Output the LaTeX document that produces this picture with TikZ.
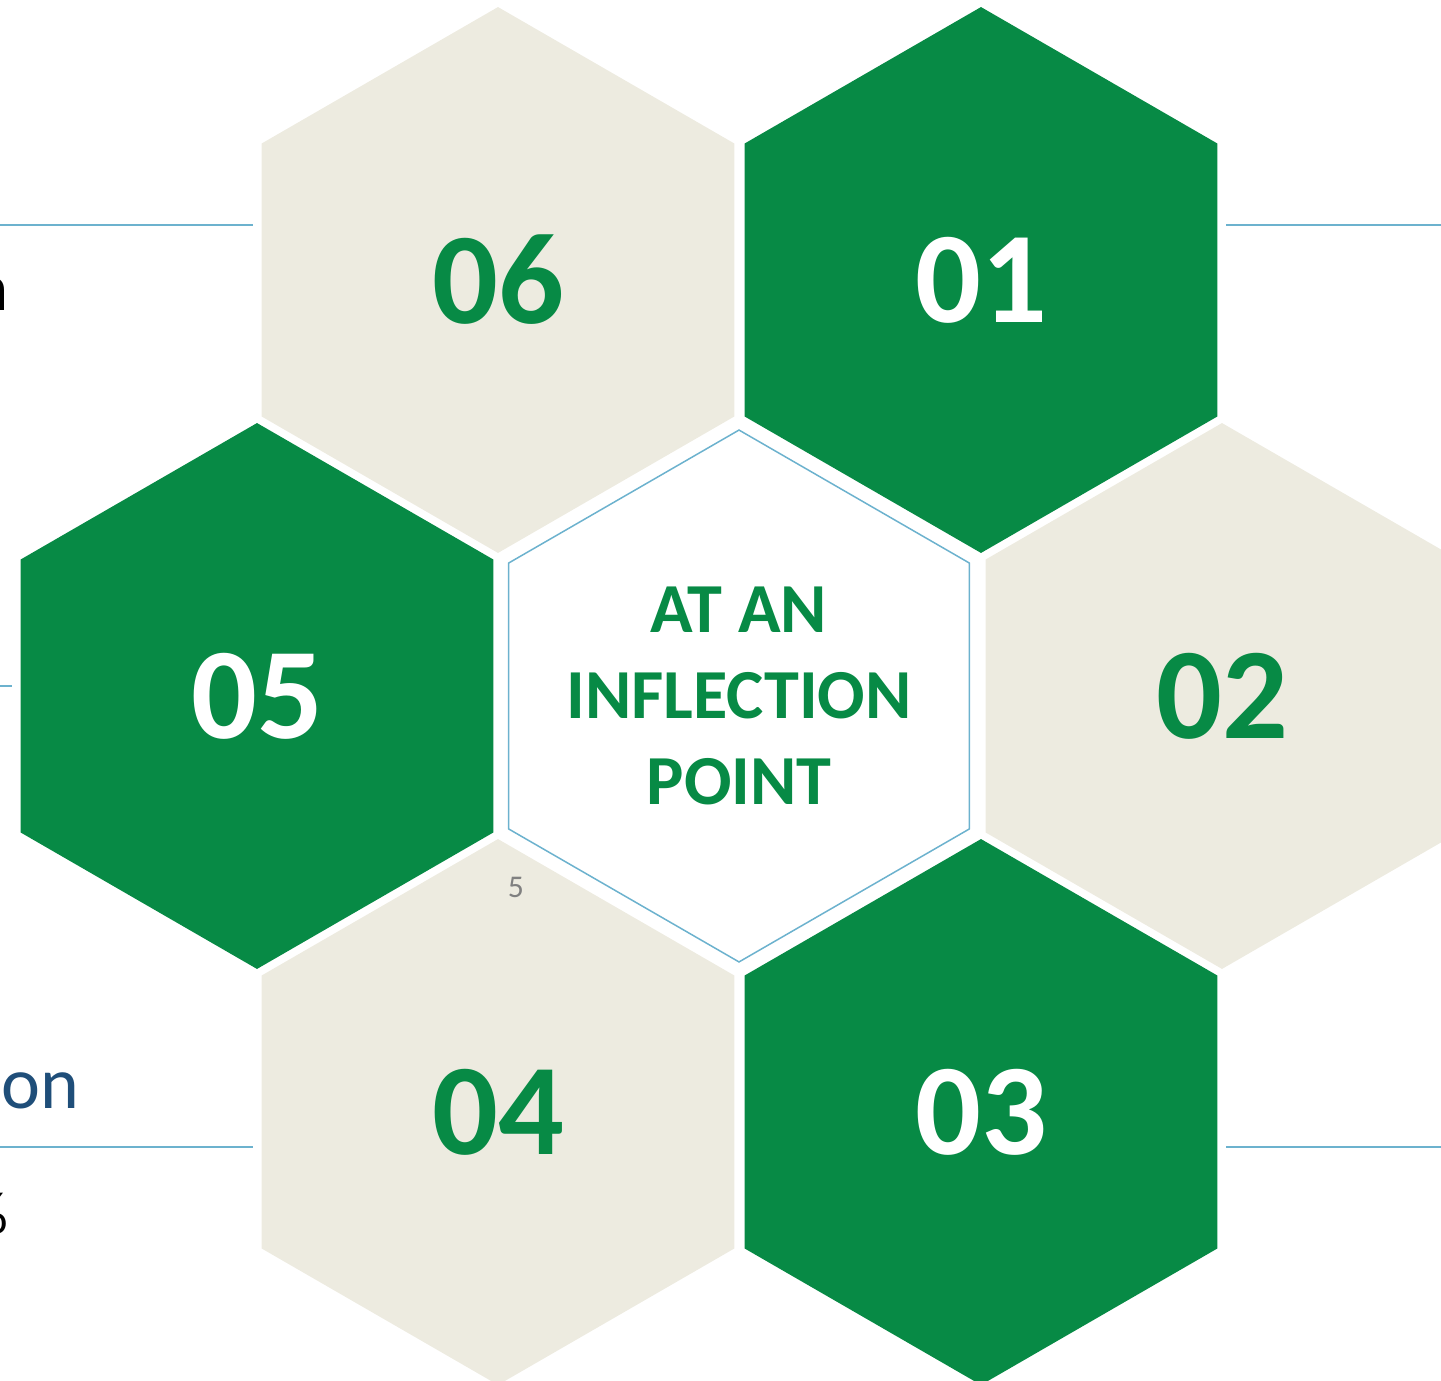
\documentclass[tikz,border=0pt]{standalone}
\usepackage{fontspec}
\setmainfont{Carlito}
\usetikzlibrary{shapes.geometric}
\definecolor{hexgreen}{RGB}{7,138,69}
\definecolor{hexbeige}{RGB}{237,235,224}
\definecolor{rulecol}{RGB}{108,178,206}
\definecolor{navy}{RGB}{31,78,121}
\tikzstyle{hex} = [regular polygon, regular polygon sides=6, shape border rotate=30, minimum size=10.92cm, inner sep=0pt]
\tikzstyle{dark} = [hex, fill=hexgreen, text=white, font=\fontsize{74}{74}\bfseries\selectfont]
\tikzstyle{light} = [hex, fill=hexbeige, text=hexgreen, font=\fontsize{74}{74}\bfseries\selectfont]
\tikzstyle{core} = [hex, minimum size=10.64cm, draw=rulecol, line width=0.85pt, fill=white]
\tikzstyle{title} = [text=hexgreen, align=center, font=\fontsize{40}{49}\bfseries\selectfont]
\tikzstyle{rule} = [draw=rulecol, line width=1.1pt]
\tikzstyle{side} = [anchor=base east, inner sep=0pt, font=\fontsize{38}{44}\selectfont]

\begin{document}
\begin{tikzpicture}[x=0.02cm, y=-0.02cm]
    \useasboundingbox (0,0) rectangle (1441,1381);
    \clip (0,0) rectangle (1441,1381);

    % Hexagons.
    \node (hex06) [light] at (498,280) {06};
    \node (hex01) [dark] at (981,280) {01};
    \node (hex05) [dark] at (257,696) {05};
    \node (center) [core] at (739,696) {};
    \node (hex02) [light] at (1222,696) {02};
    \node (hex04) [light] at (498,1112) {04};
    \node (hex03) [dark] at (981,1112) {03};
    \node (title) [title] at (center) {AT AN\\INFLECTION\\POINT};
    \node (page) [text=gray, font=\fontsize{18}{20}\selectfont] at (516,887) {5};

    % Rules.
    \draw [rule] (0,225) -- (253,225);
    \draw [rule] (1226,225) -- (1441,225);
    \draw [rule] (0,686) -- (12,686);
    \draw [rule] (0,1147) -- (253,1147);
    \draw [rule] (1226,1147) -- (1441,1147);

    % Cut-off text.
    \node (text nw) [side] at (9,311) {n};
    \node (text sw) [side, text=navy, font=\fontsize{42}{50}\selectfont] at (80,1108) {on};
    \node (text sw2) [side, font=\fontsize{34}{40}\selectfont] at (9,1233) {\%};
\end{tikzpicture}
\end{document}
